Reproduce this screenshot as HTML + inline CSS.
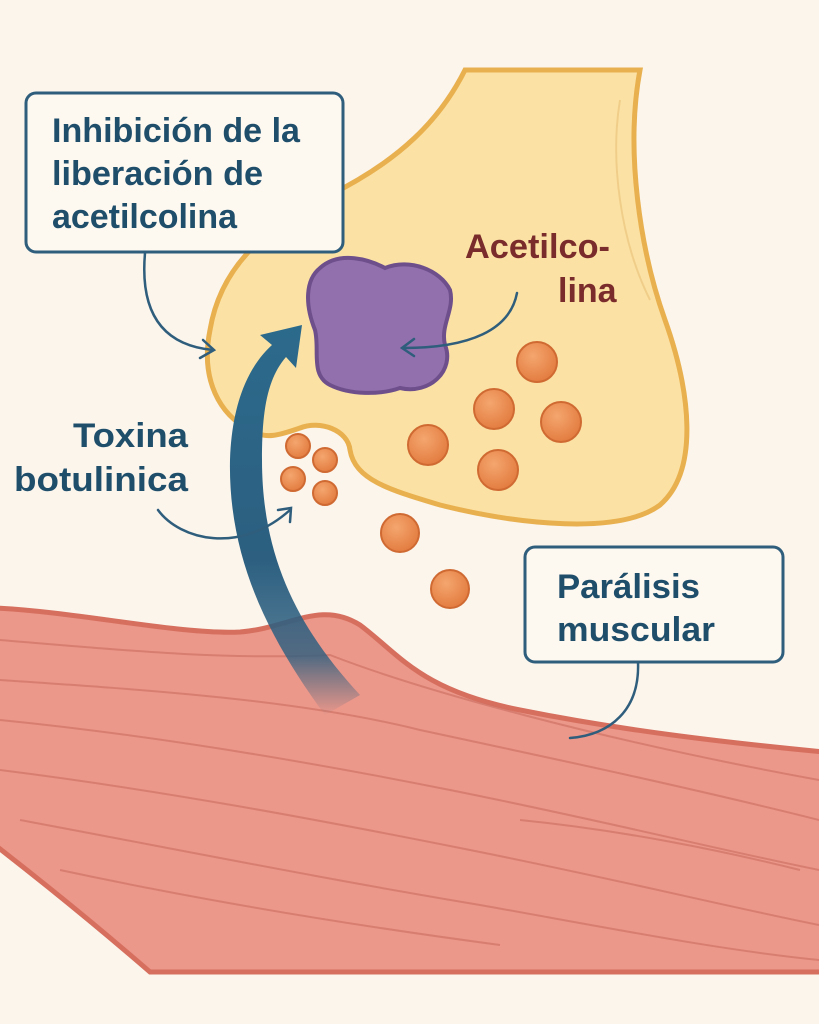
<!DOCTYPE html>
<html><head><meta charset="utf-8"><style>
html,body{margin:0;padding:0;background:#fbf5ec;}
svg{display:block}
text{font-family:"Liberation Sans",sans-serif;font-weight:bold}
</style></head><body>
<svg width="819" height="1024" viewBox="0 0 819 1024" xmlns="http://www.w3.org/2000/svg">
<defs>
<linearGradient id="ag" x1="0" y1="1" x2="0" y2="0">
<stop offset="0" stop-color="#2c5f80" stop-opacity="0"/>
<stop offset="0.15" stop-color="#2c5f80" stop-opacity="0.8"/>
<stop offset="0.4" stop-color="#2c5f80"/>
<stop offset="1" stop-color="#2c6a8c"/>
</linearGradient>
<radialGradient id="ball" cx="0.4" cy="0.35" r="0.7">
<stop offset="0" stop-color="#f4a66e"/><stop offset="1" stop-color="#e27a3e"/>
</radialGradient>
</defs>
<rect width="819" height="1024" fill="#fbf5ec"/>
<path d="M-5,608 C80,612 180,635 240,632 C290,628 320,600 360,625 C400,655 420,690 520,710 C620,730 720,742 824,752 L824,972 L150,972 C90,920 40,880 -5,845 Z" fill="#eb978a" stroke="#d66f5e" stroke-width="5"/>
<g fill="none" stroke="#c96a5c" stroke-width="2" opacity="0.55">
<path d="M0,640 C120,650 220,660 330,655 C420,690 600,740 819,780"/>
<path d="M0,680 C150,690 300,700 420,730 C560,760 700,790 819,820"/>
<path d="M0,720 C150,735 300,760 450,790 C600,820 720,850 819,870"/>
<path d="M0,770 C160,790 320,820 470,850 C620,880 720,905 819,925"/>
<path d="M20,820 C180,850 330,880 480,905 C620,930 720,950 819,960"/>
<path d="M60,870 C200,900 350,925 500,945"/>
<path d="M520,820 C620,830 720,850 800,870"/>
</g>
<path d="M465,70 L640,70 C625,150 640,250 665,320 C690,390 700,470 660,505 C620,535 520,525 440,505 C390,490 355,480 350,450 C348,430 320,420 300,428 C280,435 265,440 250,430 C220,415 200,380 210,330 C220,270 260,230 330,195 C400,160 440,120 465,70 Z" fill="#fbe2a4" stroke="#e9b04f" stroke-width="5"/>
<path d="M620,100 C610,160 620,240 650,300" fill="none" stroke="#e9c27a" stroke-width="2" opacity="0.6"/>
<path d="M320,268 C340,250 370,260 385,268 C410,258 440,270 450,290 C455,310 440,325 445,345 C455,370 430,395 400,388 C380,395 350,395 330,385 C310,375 320,350 315,330 C305,305 305,280 320,268 Z" fill="#9270ad" stroke="#6e4f8c" stroke-width="4"/>
<g fill="url(#ball)" stroke="#d06a33" stroke-width="2">
<circle cx="537" cy="362" r="20"/><circle cx="494" cy="409" r="20"/><circle cx="561" cy="422" r="20"/>
<circle cx="428" cy="445" r="20"/><circle cx="498" cy="470" r="20"/><circle cx="400" cy="533" r="19"/>
<circle cx="450" cy="589" r="19"/>
<circle cx="298" cy="446" r="12"/><circle cx="325" cy="460" r="12"/><circle cx="293" cy="479" r="12"/><circle cx="325" cy="493" r="12"/>
</g>
<path d="M325,715 C270,640 228,560 230,460 C232,400 250,365 272,345 L260,335 L302,325 L296,368 L286,357 C266,380 262,415 262,460 C262,560 300,630 360,695 Z" fill="url(#ag)"/>
<rect x="26" y="93" width="317" height="159" rx="10" fill="#fdf8f0" stroke="#2f5d7c" stroke-width="3"/>
<g font-size="34" fill="#1f4e6b">
<text x="52" y="142" textLength="248" lengthAdjust="spacingAndGlyphs">Inhibición de la</text>
<text x="52" y="185" textLength="211" lengthAdjust="spacingAndGlyphs">liberación de</text>
<text x="52" y="228" textLength="185" lengthAdjust="spacingAndGlyphs">acetilcolina</text>
</g>
<rect x="525" y="547" width="258" height="115" rx="10" fill="#fdf8f0" stroke="#2f5d7c" stroke-width="3"/>
<g font-size="34" fill="#1f4e6b">
<text x="557" y="598" textLength="143" lengthAdjust="spacingAndGlyphs">Parálisis</text>
<text x="557" y="641" textLength="158" lengthAdjust="spacingAndGlyphs">muscular</text>
<text x="73" y="447" textLength="115" lengthAdjust="spacingAndGlyphs">Toxina</text>
<text x="14" y="491" textLength="174" lengthAdjust="spacingAndGlyphs">botulinica</text>
</g>
<g font-size="34" fill="#7a2b2b">
<text x="465" y="258" textLength="145" lengthAdjust="spacingAndGlyphs">Acetilco-</text>
<text x="558" y="302">lina</text>
</g>
<g fill="none" stroke="#2f5d7c" stroke-width="2.5" stroke-linecap="round">
<path d="M145,253 C140,310 160,345 213,350"/><path d="M203,340 L214,350 L200,358"/>
<path d="M517,293 C510,330 470,348 403,348"/><path d="M414,339 L402,348 L414,356"/>
<path d="M158,510 C180,540 240,555 290,510"/><path d="M278,510 L291,508 L290,522"/>
<path d="M638,662 C640,710 610,735 570,738"/>
</g>
</svg>
</body></html>
